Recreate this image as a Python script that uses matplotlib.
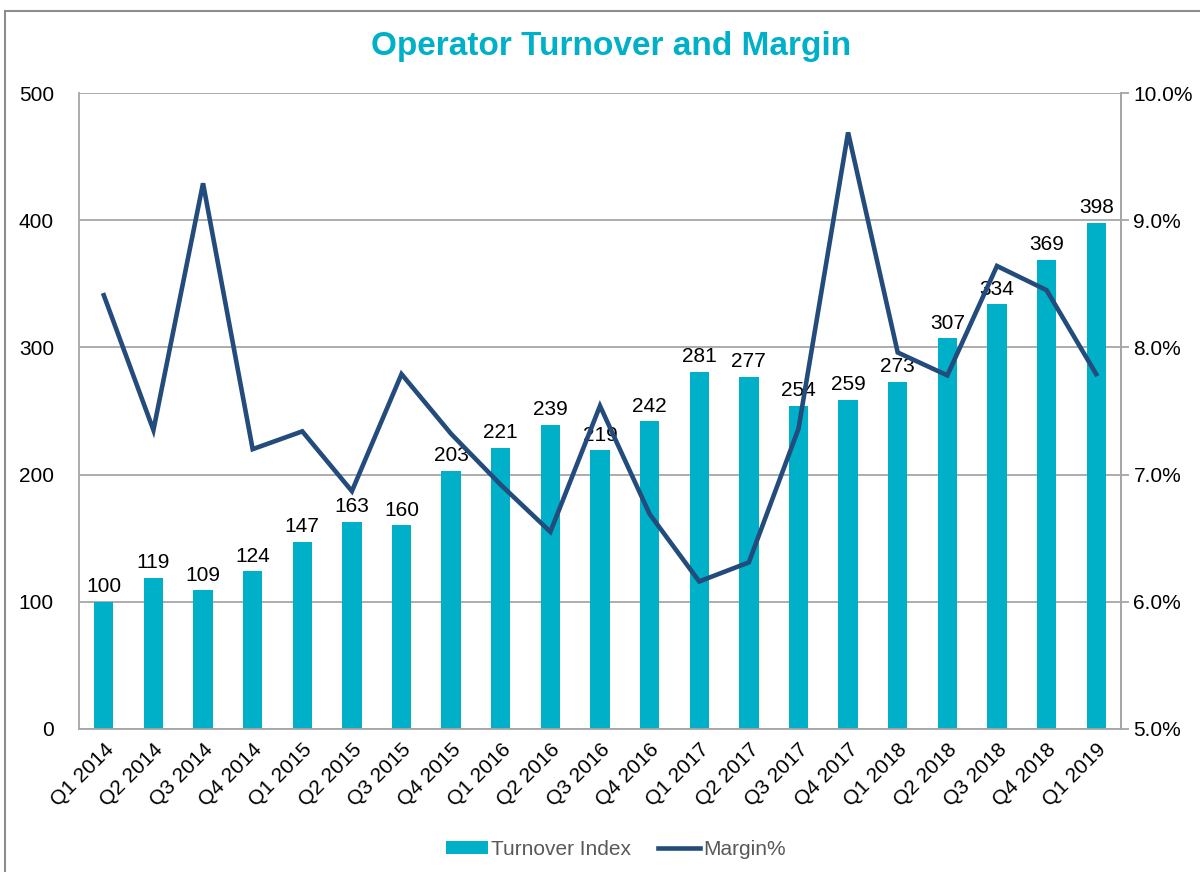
import matplotlib
matplotlib.use("Agg")
import matplotlib.pyplot as plt
import matplotlib.ticker as mticker
from matplotlib.patches import Rectangle
import numpy as np

quarters = ["Q1 2014", "Q2 2014", "Q3 2014", "Q4 2014", "Q1 2015", "Q2 2015", "Q3 2015",
            "Q4 2015", "Q1 2016", "Q2 2016", "Q3 2016", "Q4 2016", "Q1 2017", "Q2 2017",
            "Q3 2017", "Q4 2017", "Q1 2018", "Q2 2018", "Q3 2018", "Q4 2018", "Q1 2019"]
turnover = [100, 119, 109, 124, 147, 163, 160, 203, 221, 239, 219, 242, 281, 277,
            254, 259, 273, 307, 334, 369, 398]
margin = [8.41, 7.35, 9.29, 7.20, 7.34, 6.87, 7.79, 7.32, 6.92, 6.55, 7.54, 6.69, 6.16, 6.31,
          7.36, 9.69, 7.96, 7.78, 8.64, 8.45, 7.79]

BAR = "#00AFC8"
LINE = "#234B7C"
GRID = "#A6A6A6"
FS = 15

plt.rcParams['font.family'] = ['Liberation Sans', 'DejaVu Sans']

fig = plt.figure(figsize=(12, 8.72), dpi=100)
# chart frame
fig.patches.append(Rectangle((5 / 1200, -0.05), 1.1, 1 - 11 / 872 + 0.05, transform=fig.transFigure,
                             fill=False, edgecolor="#8C8C8C", linewidth=1.5))

ax = fig.add_axes([79 / 1200, 1 - 729 / 872, 1042 / 1200, 636 / 872])
x = np.arange(len(quarters))
bars = ax.bar(x, turnover, width=0.39, color=BAR, zorder=2, label="Turnover Index")
for xi, v in zip(x, turnover):
    ax.annotate(str(v), (xi, v), xytext=(0, 4), textcoords="offset points",
                ha="center", va="bottom", fontsize=FS, color="black", zorder=5)

ax.set_xlim(-0.5, len(quarters) - 0.5)
ax.set_ylim(0, 500)
ax.yaxis.set_major_locator(mticker.MultipleLocator(100))
ax.grid(axis="y", color=GRID, linewidth=1.3, zorder=0)
ax.set_axisbelow(True)
ax.set_xticks(x)
ax.set_xticklabels(quarters, rotation=45, ha="right", rotation_mode="anchor", fontsize=FS)
ax.tick_params(axis="x", length=0, pad=8)
ax.tick_params(axis="y", length=0, labelsize=FS, pad=18)
for s in ["left", "bottom", "right"]:
    ax.spines[s].set_color(GRID)
    ax.spines[s].set_linewidth(1.3)
ax.spines["top"].set_visible(False)

ax2 = ax.twinx()
line, = ax2.plot(x, margin, color=LINE, linewidth=3.3, zorder=4, label="Margin%",
                 solid_joinstyle="miter")
ax2.set_ylim(5, 10)
ax2.yaxis.set_major_locator(mticker.MultipleLocator(1))
ax2.yaxis.set_major_formatter(mticker.FormatStrFormatter('%.1f%%'))
ax2.tick_params(axis="y", length=6, color=GRID, width=1.3, labelsize=FS, pad=3)
for s in ["left", "bottom", "top"]:
    ax2.spines[s].set_visible(False)
ax2.spines["right"].set_color(GRID)
ax2.spines["right"].set_linewidth(1.3)

fig.text(611 / 1200, 1 - 46 / 872, "Operator Turnover and Margin", ha="center", va="center",
         fontsize=24, fontweight="bold", color="#00B0C8")

leg = fig.legend([bars, line], ["Turnover Index", "Margin%"], loc="center",
                 bbox_to_anchor=(616 / 1200, 1 - 849 / 872), ncol=2, frameon=False,
                 fontsize=FS, handlelength=2.0, handleheight=0.6, handletextpad=0.15,
                 columnspacing=1.3)
for t in leg.get_texts():
    t.set_color("#595959")

fig.savefig("out.png", dpi=100)
